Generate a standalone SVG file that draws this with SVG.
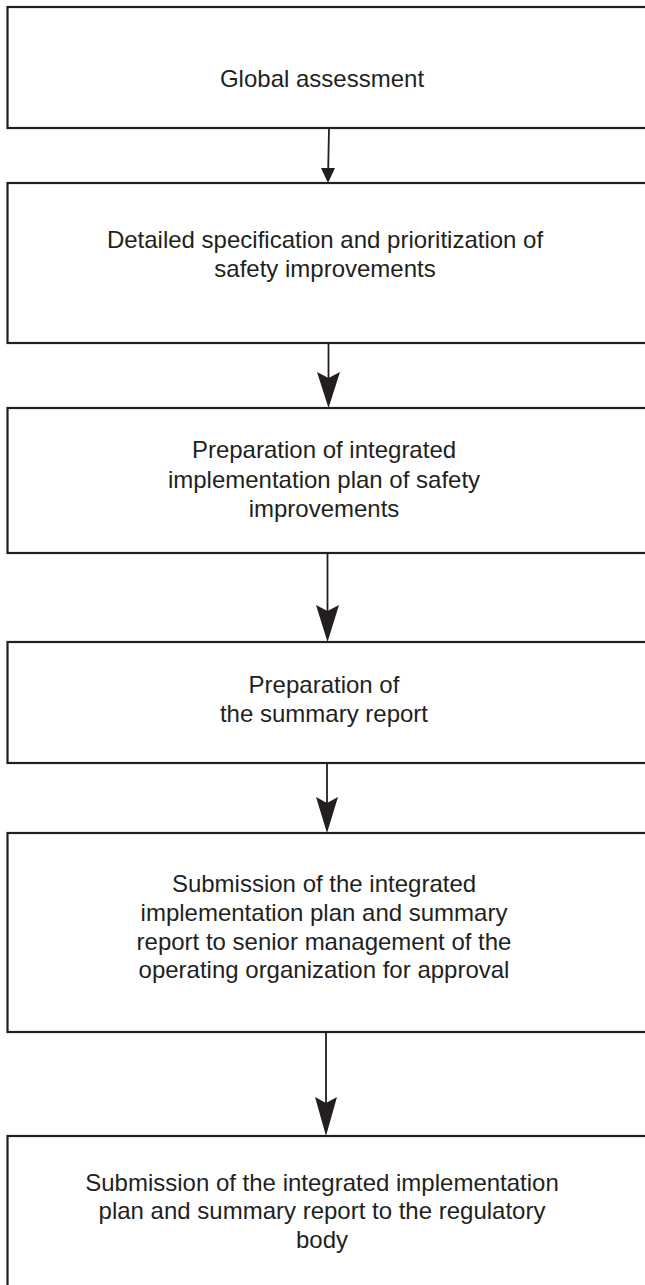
<svg xmlns="http://www.w3.org/2000/svg" width="645" height="1285" viewBox="0 0 645 1285">
<style>
.box{fill:#fff;stroke:#231f20;stroke-width:2.2}
.t{font-family:"Liberation Sans",Arial,sans-serif;font-size:24px;fill:#231f20;text-anchor:middle}
.ln{stroke:#231f20;stroke-width:1.8;fill:none}
.hd{fill:#231f20;stroke:none}
</style>
<rect width="645" height="1285" fill="#fff"/>
<g id="connectors">
<line class="ln" x1="329" y1="128" x2="328.2" y2="170"/>
<path class="hd" d="M328 183 L321 168 L335 168 Z"/>
<line class="ln" x1="328.5" y1="343" x2="328.5" y2="380"/>
<path class="hd" d="M328.5 408 L317 372 L328.5 378 L340 372 Z"/>
<line class="ln" x1="327.5" y1="553" x2="327.5" y2="612"/>
<path class="hd" d="M327.5 642 L316 605 L327.5 611 L339 605 Z"/>
<line class="ln" x1="327" y1="763" x2="327" y2="804"/>
<path class="hd" d="M327 833 L316 797 L327 803 L338 797 Z"/>
<line class="ln" x1="326" y1="1032" x2="326" y2="1104"/>
<path class="hd" d="M326 1136 L315 1097 L326 1103 L337 1097 Z"/>
</g>
<g id="n1">
<rect class="box" x="7.5" y="7" width="660" height="121"/>
<text class="t" x="322" y="87">Global assessment</text>
</g>
<g id="n2">
<rect class="box" x="7.5" y="183" width="660" height="160"/>
<text class="t" x="325" y="248">Detailed specification and prioritization of</text>
<text class="t" x="325" y="277">safety improvements</text>
</g>
<g id="n3">
<rect class="box" x="7.5" y="408" width="660" height="145"/>
<text class="t" x="324" y="458">Preparation of integrated</text>
<text class="t" x="324" y="488">implementation plan of safety</text>
<text class="t" x="324" y="517">improvements</text>
</g>
<g id="n4">
<rect class="box" x="7.5" y="642" width="660" height="121"/>
<text class="t" x="324" y="693">Preparation of</text>
<text class="t" x="324" y="722">the summary report</text>
</g>
<g id="n5">
<rect class="box" x="7.5" y="833" width="660" height="199"/>
<text class="t" x="324" y="892">Submission of the integrated</text>
<text class="t" x="324" y="921">implementation plan and summary</text>
<text class="t" x="324" y="950">report to senior management of the</text>
<text class="t" x="324" y="978">operating organization for approval</text>
</g>
<g id="n6">
<rect class="box" x="7.5" y="1136" width="660" height="200"/>
<text class="t" x="322" y="1191">Submission of the integrated implementation</text>
<text class="t" x="322" y="1219">plan and summary report to the regulatory</text>
<text class="t" x="322" y="1248">body</text>
</g>
</svg>
